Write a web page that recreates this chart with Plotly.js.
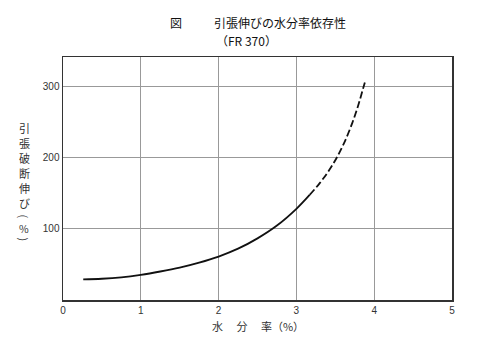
<!DOCTYPE html>
<html>
<head>
<meta charset="utf-8">
<script src="https://cdn.plot.ly/plotly-3.0.1.min.js"></script>
<style>html,body{margin:0;padding:0;background:#fff;}#chart{width:500px;height:364px;}</style>
</head>
<body>
<div id="chart"></div>
<script>
// Data
var solidX = [0.26, 0.5, 0.75, 1.0, 1.25, 1.5, 1.75, 2.0, 2.25, 2.5, 2.75, 3.0, 3.17];
var solidY = [29, 29.8, 31.8, 35.3, 40, 45.5, 52.5, 61, 72, 86.5, 104.5, 128, 147.5];
var dashX = [3.17, 3.3, 3.42, 3.52, 3.62, 3.72, 3.8, 3.86, 3.89];
var dashY = [147.5, 164, 182, 200, 222, 249, 275, 298, 309];
var xTicks = [0, 1, 2, 3, 4, 5];
var xTickLabels = ['0', '1', '2', '3', '4', '5'];
var yTicks = [100, 200, 300];
var yTickLabels = ['100', '200', '300'];
var titleMark = '図';
var titleMain = '引張伸びの水分率依存性';
var titleSub = '（FR 370）';
var yLabelChars = ['引', '張', '破', '断', '伸', 'び'];
var yLabelUnit = '%';
var xLabel = '水　 分　 率（%）';

var cjk = '"Noto Sans CJK JP", "Noto Sans CJK SC", sans-serif';
var num = '"Liberation Sans", Arial, sans-serif';

// pixel -> paper helpers (plot area 63..452 x, 57..300 y)
var L = 63, R = 48, T = 57, B = 64, W = 500, H = 364;
var pw = W - L - R, ph = H - T - B;
function px(x) { return (x - L) / pw; }
function py(y) { return (H - B - y) / ph; }

var traces = [
  {x: solidX, y: solidY, mode: 'lines', line: {color: '#111', width: 1.8, shape: 'spline'}, hoverinfo: 'skip'},
  {x: dashX, y: dashY, mode: 'lines', line: {color: '#111', width: 1.8, shape: 'spline', dash: '7px,3px'}, hoverinfo: 'skip'}
];

function txt(t, x, y, size, color, angle) {
  var a = {text: t, x: px(x), y: py(y), xref: 'paper', yref: 'paper', showarrow: false,
    xanchor: 'center', yanchor: 'middle', font: {family: cjk, size: size, color: color}};
  if (angle) a.textangle = angle;
  return a;
}

var ann = [];
ann.push(txt(titleMark, 176, 23, 12, '#111'));
ann.push(txt(titleMain, 280, 23, 12, '#111'));
ann.push(txt(titleSub, 246, 40.5, 12, '#111'));
for (var i = 0; i < yLabelChars.length; i++) {
  ann.push(txt(yLabelChars[i], 24, 128 + 15 * i, 11, '#333'));
}
ann.push(txt('(', 24, 216.5, 11, '#333', 90));
ann.push(txt(yLabelUnit, 24, 228, 10.5, '#333'));
ann.push(txt(')', 24, 239.5, 11, '#333', 90));
ann.push(txt(xLabel, 258, 326, 11, '#333'));

var layout = {
  width: W, height: H,
  margin: {l: L, r: R, t: T, b: B, pad: 0},
  paper_bgcolor: '#fff', plot_bgcolor: '#fff',
  showlegend: false,
  xaxis: {
    range: [0, 5], tickvals: xTicks, ticktext: xTickLabels,
    showgrid: true, gridcolor: '#999', gridwidth: 1,
    showline: true, linecolor: '#333', linewidth: 1.5, mirror: true,
    zeroline: false, ticks: '', fixedrange: true,
    tickfont: {family: num, size: 10, color: '#333'}
  },
  yaxis: {
    range: [0, 341], tickvals: yTicks, ticktext: yTickLabels,
    showgrid: true, gridcolor: '#999', gridwidth: 1,
    showline: true, linecolor: '#333', linewidth: 1.5, mirror: true,
    zeroline: false, ticks: '', fixedrange: true,
    tickfont: {family: num, size: 10, color: '#333'}
  },
  annotations: ann
};

Plotly.newPlot('chart', traces, layout, {staticPlot: true, displayModeBar: false});
</script>
</body>
</html>
